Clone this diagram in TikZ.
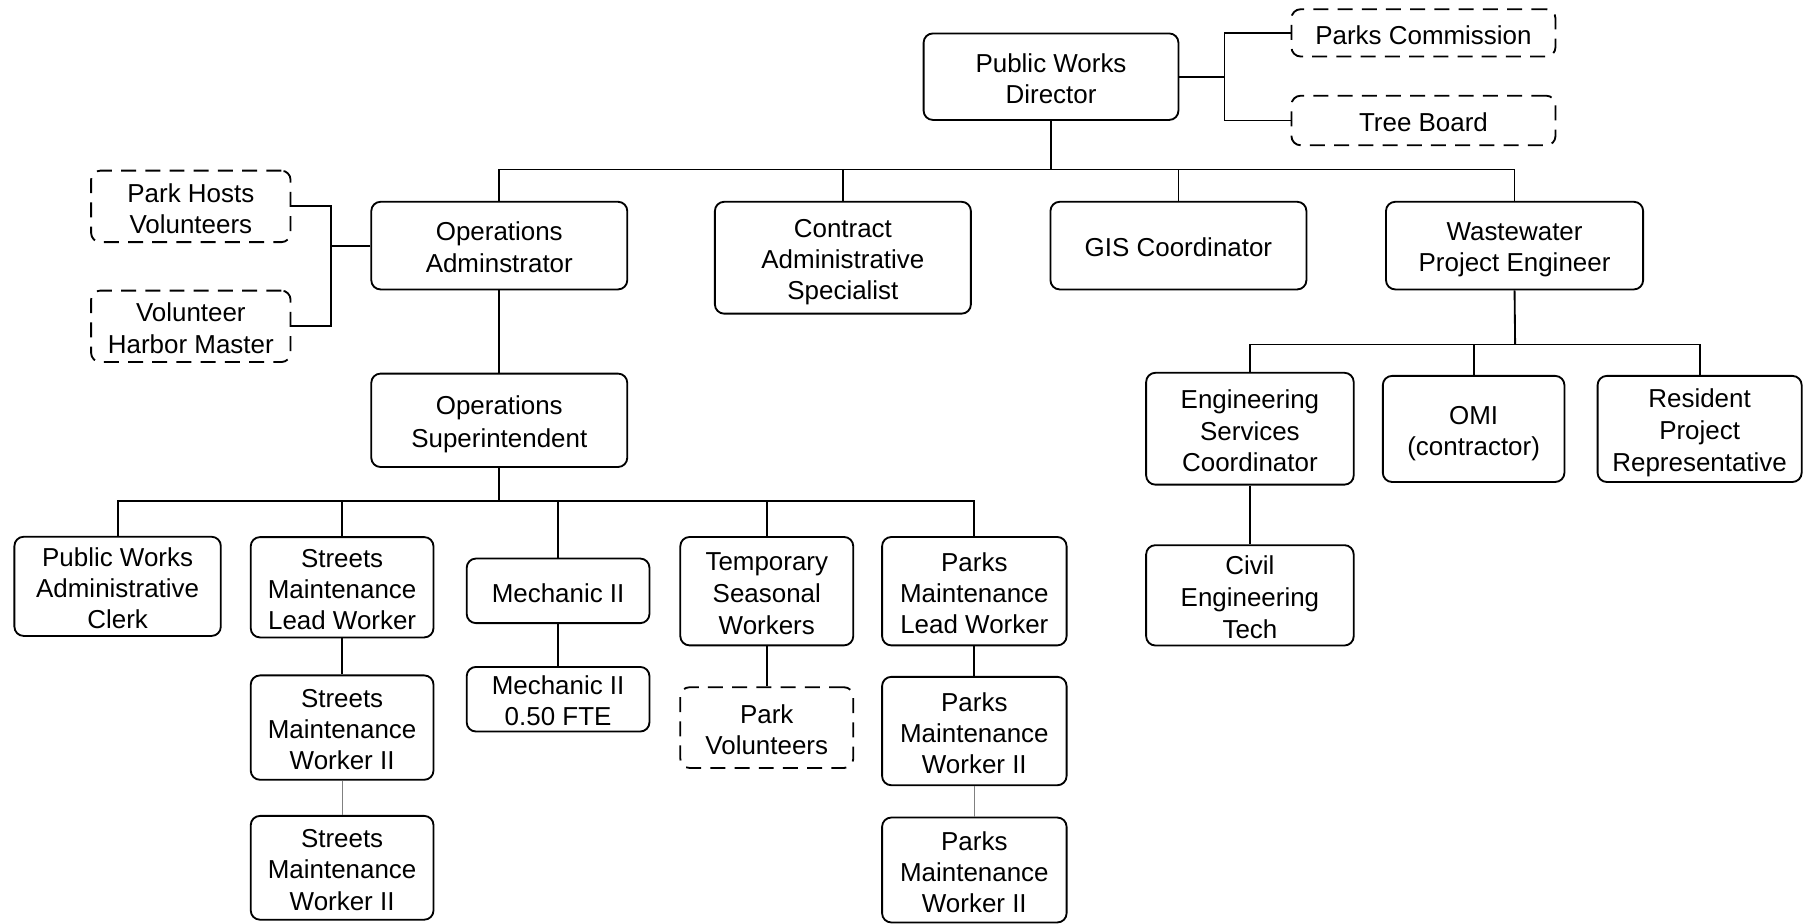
\documentclass[tikz,border=0pt]{standalone}
\usepackage{fontspec}
\usepackage{array}
\setmainfont{Liberation Sans}
\newcolumntype{C}{@{}>{\rule[-3.8pt]{0pt}{27pt}}c@{}}
\newcommand\lns[1]{{\renewcommand\arraystretch{0}\begin{tabular}{C}#1\end{tabular}}}
\begin{document}
\begin{tikzpicture}[x=1pt,y=-1pt,
 box/.style={draw, line width=1.6pt, rounded corners=8pt, inner sep=0pt,
   font=\fontsize{22.5}{27}\selectfont},
 dbox/.style={box, dash pattern=on 13pt off 8pt},
 link/.style={line width=1.6pt},
 thinlink/.style={line width=1pt, gray}]
\useasboundingbox (0,0) rectangle (1568,801.3);
% top
\node[box, minimum width=221pt, minimum height=75pt] (dir) at (911.5,66.5) {\lns{Public Works\\Director}};
\node[dbox, minimum width=229pt, minimum height=41pt] (pc) at (1234.5,28.5) {\lns{Parks Commission}};
\node[dbox, minimum width=229pt, minimum height=43pt] (tb) at (1234.5,104.5) {\lns{Tree Board}};
% second level
\node[box, minimum width=222pt, minimum height=76pt] (oa) at (433,213) {\lns{Operations\\Adminstrator}};
\node[box, minimum width=222pt, minimum height=97pt] (cas) at (731,223.5) {\lns{Contract\\Administrative\\Specialist}};
\node[box, minimum width=222pt, minimum height=76pt] (gis) at (1022,213) {\lns{GIS Coordinator}};
\node[box, minimum width=223pt, minimum height=76pt] (wpe) at (1313.5,213) {\lns{Wastewater\\Project Engineer}};
\node[dbox, minimum width=173pt, minimum height=62pt] (ph) at (165.5,179) {\lns{Park Hosts\\Volunteers}};
\node[dbox, minimum width=173pt, minimum height=62pt] (vhm) at (165.5,283) {\lns{Volunteer\\Harbor Master}};
\node[box, minimum width=222pt, minimum height=81pt] (os) at (433,364.5) {\lns{Operations\\Superintendent}};
% operations children
\node[box, minimum width=179pt, minimum height=86pt] (pwac) at (102,508.5) {\lns{Public Works\\Administrative\\Clerk}};
\node[box, minimum width=158.5pt, minimum height=87pt] (smlw) at (296.7,509.3) {\lns{Streets\\Maintenance\\Lead Worker}};
\node[box, minimum width=158.5pt, minimum height=56pt] (mech) at (484,512.4) {\lns{Mechanic II}};
\node[box, minimum width=150pt, minimum height=94pt] (tsw) at (665,512.7) {\lns{Temporary\\Seasonal\\Workers}};
\node[box, minimum width=160pt, minimum height=94pt] (pmlw) at (845,512.7) {\lns{Parks\\Maintenance\\Lead Worker}};
\node[box, minimum width=158.5pt, minimum height=90.5pt] (smw1) at (296.7,631) {\lns{Streets\\Maintenance\\Worker II}};
\node[box, minimum width=158.5pt, minimum height=90pt] (smw2) at (296.7,752.6) {\lns{Streets\\Maintenance\\Worker II}};
\node[box, minimum width=158.5pt, minimum height=56pt] (mech2) at (484,606.4) {\lns{Mechanic II\\0.50 FTE}};
\node[dbox, minimum width=150pt, minimum height=70pt] (pv) at (665,631) {\lns{Park\\Volunteers}};
\node[box, minimum width=160pt, minimum height=94pt] (pmw1) at (845,634) {\lns{Parks\\Maintenance\\Worker II}};
\node[box, minimum width=160pt, minimum height=91pt] (pmw2) at (845,754.5) {\lns{Parks\\Maintenance\\Worker II}};
% wastewater children
\node[box, minimum width=180pt, minimum height=97pt] (esc) at (1084,371.8) {\lns{Engineering\\Services\\Coordinator}};
\node[box, minimum width=157.5pt, minimum height=92pt] (omi) at (1278,372) {\lns{OMI\\(contractor)}};
\node[box, minimum width=177pt, minimum height=92pt] (rpr) at (1474,372) {\lns{Resident\\Project\\Representative}};
\node[box, minimum width=180pt, minimum height=87pt] (cet) at (1084,516.3) {\lns{Civil\\Engineering\\Tech}};
% connectors
\coordinate (b1) at (911.5,147);
\draw[link] (dir.south) -- (b1);
\foreach \n in {oa,cas,gis,wpe} \draw[link] (\n.north) |- (b1);
\coordinate (b2) at (1062,66.5);
\draw[link] (dir.east) -- (b2);
\draw[link] (pc.west) -| (b2);
\draw[link] (tb.west) -| (b2);
\coordinate (b3) at (287,213);
\draw[link] (oa.west) -- (b3);
\draw[link] (ph.east) -| (b3);
\draw[link] (vhm.east) -| (b3);
\draw[link] (oa.south) -- (os.north);
\coordinate (b4) at (433,434.5);
\draw[link] (os.south) -- (b4);
\foreach \n in {pwac,smlw,mech,tsw,pmlw} \draw[link] (\n.north) |- (b4);
\draw[link] (smlw.south) -- (smw1.north);
\draw[thinlink] (smw1.south) -- (smw2.north);
\draw[link] (mech.south) -- (mech2.north);
\draw[link] (tsw.south) -- (pv.north);
\draw[link] (pmlw.south) -- (pmw1.north);
\draw[thinlink] (pmw1.south) -- (pmw2.north);
\coordinate (b5) at (1314,298.7);
\draw[link] (wpe.south) -- (b5);
\foreach \n in {esc,omi,rpr} \draw[link] (\n.north) |- (b5);
\draw[link] (esc.south) -- (cet.north);
\end{tikzpicture}
\end{document}
